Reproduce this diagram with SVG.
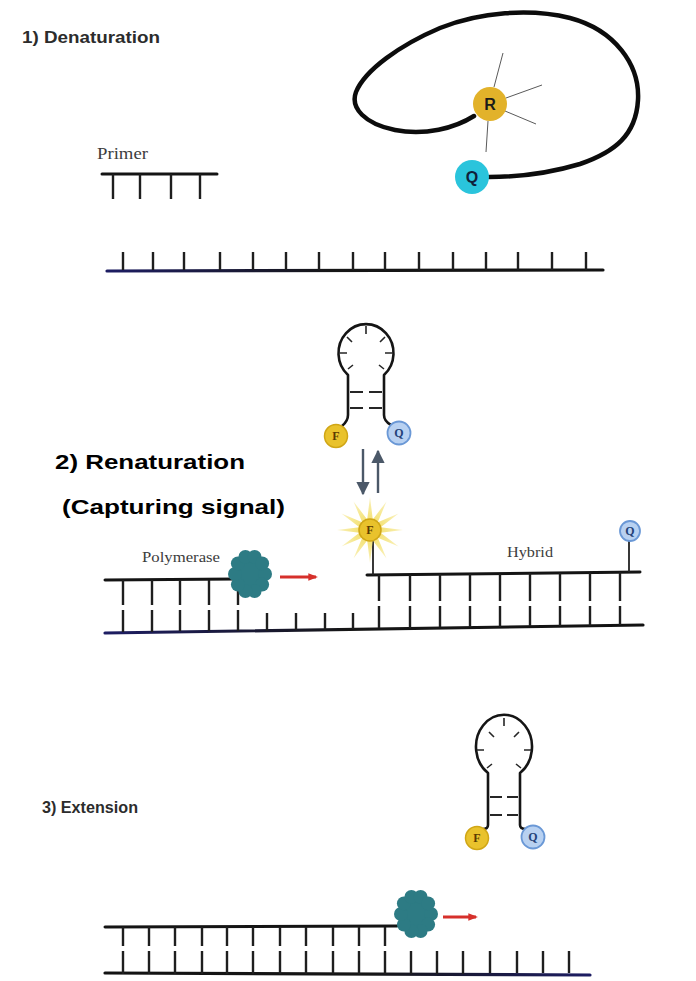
<svg xmlns="http://www.w3.org/2000/svg" xmlns:xlink="http://www.w3.org/1999/xlink" width="696" height="981" viewBox="0 0 696 981">
  <style>
    .strand { stroke: #141414; stroke-width: 3; stroke-linecap: round; fill: none; }
    .tick { stroke: #1e1e1e; stroke-width: 2.4; stroke-linecap: butt; fill: none; }
    .loop { stroke: #151515; stroke-width: 2.6; fill: none; stroke-linejoin: round; }
    .inner { stroke: #262626; stroke-width: 1.6; fill: none; }
    .rung { stroke: #262626; stroke-width: 2.2; fill: none; }
    .ray { stroke: #5a5a5a; stroke-width: 1; }
    .title { font-family: "Liberation Sans", Arial, sans-serif; font-weight: bold; fill: #2c2c2c; }
    .big { font-family: "Liberation Sans", Arial, sans-serif; font-weight: bold; font-size: 21px; fill: #000; }
    .label { font-family: "Liberation Serif", "Times New Roman", serif; fill: #3c3c3c; }
    .dye { font-family: "Liberation Serif", serif; font-weight: bold; font-size: 12px; text-anchor: middle; }
    .fluor { fill: #e9c22c; stroke: #d0a616; stroke-width: 1.5; }
    .quench { fill: #b8d1f1; stroke: #6a98d6; stroke-width: 1.8; }
    .pol { fill: #2d7b84; }
    .eq { stroke: #4b5868; stroke-width: 2.4; }
    .go { stroke: #d6302b; stroke-width: 3; }
  </style>
  <defs>
    <linearGradient id="strandShade" x1="0" y1="0" x2="1" y2="0">
      <stop offset="0" stop-color="#1d1d63"/>
      <stop offset="0.45" stop-color="#161616"/>
      <stop offset="1" stop-color="#121212"/>
    </linearGradient>
    <radialGradient id="glow" cx="0.5" cy="0.5" r="0.5">
      <stop offset="0" stop-color="#f0d43c"/>
      <stop offset="0.55" stop-color="#f4e37a"/>
      <stop offset="1" stop-color="#f9f0b8"/>
    </radialGradient>
    <marker id="headRed" viewBox="0 0 10 10" refX="8" refY="5" markerWidth="3.2" markerHeight="3.2" orient="auto">
      <path d="M0,1 L10,5 L0,9 Z" fill="#d6302b"/>
    </marker>
    <marker id="headSlate" viewBox="0 0 10 10" refX="9" refY="5" markerWidth="5.5" markerHeight="5.5" orient="auto">
      <path d="M0,0 L10,5 L0,10 Z" fill="#4b5868"/>
    </marker>
    <!-- scalloped polymerase body -->
    <g id="polymerase" class="pol">
      <ellipse cx="0" cy="0" rx="16" ry="19"/>
      <circle cx="15" cy="0" r="7"/>
      <circle cx="12.1" cy="10.6" r="7"/>
      <circle cx="4.6" cy="17.1" r="7"/>
      <circle cx="-4.6" cy="17.1" r="7"/>
      <circle cx="-12.1" cy="10.6" r="7"/>
      <circle cx="-15" cy="0" r="7"/>
      <circle cx="-12.1" cy="-10.6" r="7"/>
      <circle cx="-4.6" cy="-17.1" r="7"/>
      <circle cx="4.6" cy="-17.1" r="7"/>
      <circle cx="12.1" cy="-10.6" r="7"/>
    </g>
  </defs>

  <rect width="696" height="981" fill="#ffffff"/>

  <!-- section titles -->
  <g id="titles">
    <text class="title" x="22" y="43" font-size="17" textLength="138" lengthAdjust="spacingAndGlyphs">1) Denaturation</text>
    <text class="big" x="55" y="469" textLength="190" lengthAdjust="spacingAndGlyphs">2) Renaturation</text>
    <text class="big" x="62" y="514" textLength="223" lengthAdjust="spacingAndGlyphs">(Capturing signal)</text>
    <text class="title" x="42" y="813" font-size="16" textLength="96" lengthAdjust="spacingAndGlyphs">3) Extension</text>
  </g>

  <!-- 1) open probe with reporter and quencher -->
  <g id="open-probe">
    <path d="M474,116 C455,128 425,136 395,130 C365,124 350,108 356,92 C365,70 400,45 440,28 C480,12 530,8 570,18 C615,30 640,65 638,100 C636,135 615,152 580,164 C550,173 520,177 489,177" stroke="#0c0c0c" stroke-width="4.5" fill="none" stroke-linecap="round"/>
    <line class="ray" x1="494" y1="87" x2="503" y2="53"/>
    <line class="ray" x1="506" y1="98" x2="542" y2="85"/>
    <line class="ray" x1="505" y1="111" x2="536" y2="124"/>
    <line class="ray" x1="488" y1="121" x2="486" y2="152"/>
    <circle cx="490" cy="104" r="17" fill="#e2b22a"/>
    <text x="490" y="110" font-family="Liberation Sans, Arial, sans-serif" font-weight="bold" font-size="16" text-anchor="middle" fill="#1a1a1a">R</text>
    <circle cx="472" cy="177" r="17" fill="#2ac4dc"/>
    <text x="472" y="183" font-family="Liberation Sans, Arial, sans-serif" font-weight="bold" font-size="16" text-anchor="middle" fill="#10203a">Q</text>
  </g>

  <!-- 1) primer -->
  <g id="primer">
    <text class="label" x="97" y="159" font-size="16" textLength="51" lengthAdjust="spacingAndGlyphs">Primer</text>
    <line class="strand" x1="102" y1="174" x2="217" y2="174"/>
    <path class="tick" d="M113,174V199 M140,174V199 M171,174V199 M200,174V199"/>
  </g>

  <!-- 1) single-stranded template -->
  <g id="template-1">
    <line x1="107" y1="271" x2="603" y2="270" stroke="url(#strandShade)" stroke-width="3.2" stroke-linecap="round"/>
    <path class="tick" d="M123,252V270 M153,252V270 M184,252V270 M220,252V270 M253,252V270 M286,252V270 M319,252V270 M353,252V270 M385,252V270 M419,252V270 M453,252V270 M486,252V270 M518,252V270 M552,252V270 M586,252V270"/>
  </g>

  <!-- 2) free hairpin probe -->
  <g id="hairpin-free">
    <path class="loop" d="M348,415 L348,375 A27.5 29 0 1 1 384,375 L384,415"/>
    <path class="inner" d="M366,326V334 M347,337L352,342 M385,337L380,342 M340,353H347 M392,353H385 M348,369L353,365 M384,369L379,365"/>
    <path class="rung" d="M350,392H363 M369,392H382 M350,408H363 M369,408H382"/>
    <path class="loop" d="M348,415 Q348,421 342,426 M384,415 Q384,421 391,425"/>
    <circle class="fluor" cx="336" cy="436" r="11.5"/>
    <text class="dye" x="336" y="440" fill="#5a3a00">F</text>
    <circle class="quench" cx="399" cy="433" r="11.5"/>
    <text class="dye" x="399" y="437" fill="#24427a">Q</text>
  </g>

  <!-- 2) duplex with polymerase and bound probe -->
  <g id="duplex-2">
    <line x1="105" y1="633" x2="643" y2="625" stroke="url(#strandShade)" stroke-width="3.2" stroke-linecap="round"/>
    <line class="strand" x1="105" y1="580" x2="236" y2="579"/>
    <path class="tick" d="M123,580V605 M152,580V605 M180,580V605 M209,580V605 M238,580V605"/>
    <path class="tick" d="M123,610V632 M152,610V632 M180,610V631 M209,610V631 M238,610V631 M267,613V631 M296,613V630 M325,613V630 M353,613V629"/>
    <text class="label" x="142" y="562" font-size="15" fill="#555" textLength="78" lengthAdjust="spacingAndGlyphs">Polymerase</text>
    <use xlink:href="#polymerase" href="#polymerase" transform="translate(250,574)"/>
  </g>

  <g id="hybrid">
    <line class="strand" x1="367" y1="575" x2="640" y2="572"/>
    <path class="tick" d="M379,575V601 M410,575V601 M440,574V601 M470,574V601 M500,574V601 M530,573V601 M560,573V601 M590,573V601 M620,572V601"/>
    <path class="tick" d="M379,606V628 M410,606V628 M440,606V627 M470,606V627 M500,606V627 M530,606V626 M560,606V626 M590,606V626 M620,606V625"/>
    <text class="label" x="507" y="557" font-size="15" fill="#555" textLength="46" lengthAdjust="spacingAndGlyphs">Hybrid</text>
    <line x1="629" y1="541" x2="629" y2="572" stroke="#222" stroke-width="1.8"/>
    <circle class="quench" cx="630" cy="531" r="10"/>
    <text class="dye" x="630" y="535" fill="#24427a">Q</text>
  </g>

  <g id="fluor-bound">
    <line x1="373" y1="540" x2="373" y2="575" stroke="#222" stroke-width="1.8"/>
    <polygon points="403,530 380.6,532.8 398.6,546.5 377.8,537.8 386.5,558.6 372.8,540.6 370,563 367.2,540.6 353.5,558.6 362.2,537.8 341.4,546.5 359.4,532.8 337,530 359.4,527.2 341.4,513.5 362.2,522.2 353.5,501.4 367.2,519.4 370,497 372.8,519.4 386.5,501.4 377.8,522.2 398.6,513.5 380.6,527.2" fill="url(#glow)" opacity="0.85"/>
    <circle class="fluor" cx="370" cy="530" r="11"/>
    <text class="dye" x="370" y="534" fill="#5a3a00">F</text>
  </g>

  <!-- 3) released hairpin probe -->
  <g id="hairpin-released">
    <path class="loop" d="M488,825 L488,773 A28 32 0 1 1 520,773 L520,825"/>
    <path class="inner" d="M504,718V726 M489,732L494,737 M519,732L514,737 M477,750H484 M531,750H524 M487,768L492,764 M521,768L516,764"/>
    <path class="rung" d="M490,797H502 M507,797H518 M490,815H502 M507,815H518"/>
    <path class="loop" d="M488,825 Q488,829 483,829 M520,825 Q520,829 526,829"/>
    <circle class="fluor" cx="477" cy="838" r="11.5"/>
    <text class="dye" x="477" y="842" fill="#5a3a00">F</text>
    <circle class="quench" cx="533" cy="837" r="11.5"/>
    <text class="dye" x="533" y="841" fill="#24427a">Q</text>
  </g>

  <!-- 3) extended duplex -->
  <g id="duplex-3">
    <line x1="105" y1="975" x2="590" y2="973" stroke="url(#strandShade)" stroke-width="3.2" stroke-linecap="round" transform="translate(695,0) scale(-1,1)"/>
    <line class="strand" x1="105" y1="927" x2="397" y2="926"/>
    <path class="tick" d="M123,927V946 M149,927V946 M175,927V946 M202,927V946 M227,927V946 M253,927V946 M280,927V946 M306,927V946 M333,927V946 M359,927V946 M385,927V946"/>
    <path class="tick" d="M123,951V974 M149,951V974 M175,951V974 M202,951V974 M227,951V974 M253,951V974 M280,951V974 M306,951V974 M333,951V974 M359,951V974 M385,951V974 M411,951V974 M437,951V974 M463,951V974 M490,951V973 M517,951V973 M543,951V973 M569,951V973"/>
    <use xlink:href="#polymerase" href="#polymerase" transform="translate(416,914)"/>
  </g>

  <!-- reaction arrows -->
  <g id="connectors">
    <line class="eq" x1="363" y1="449" x2="363" y2="494" marker-end="url(#headSlate)"/>
    <line class="eq" x1="378" y1="493" x2="378" y2="451" marker-end="url(#headSlate)"/>
    <line class="go" x1="280" y1="577" x2="316" y2="577" marker-end="url(#headRed)"/>
    <line class="go" x1="443" y1="917" x2="476" y2="917" marker-end="url(#headRed)"/>
  </g>
</svg>
